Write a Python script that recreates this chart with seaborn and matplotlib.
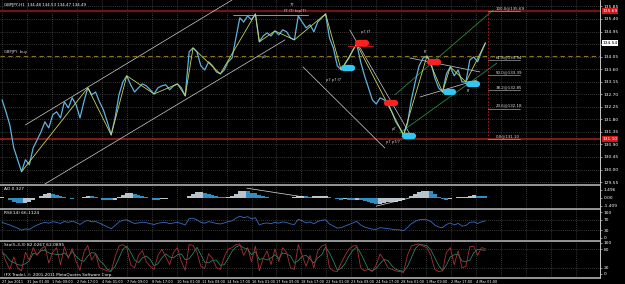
import numpy as np
import pandas as pd
import matplotlib
matplotlib.use("Agg")
import matplotlib.pyplot as plt
from matplotlib.lines import Line2D
from matplotlib.transforms import blended_transform_factory
import seaborn as sns

# ---------------- data (H1 bars, one value every 5 bars) ----------------
close = [132.50, 132.07, 131.60, 130.78, 130.35, 129.92, 130.35, 130.17, 130.78, 131.06,
         131.35, 131.71, 131.49, 131.96, 132.07, 131.85, 132.43, 132.21, 132.57, 132.32,
         131.85, 132.43, 132.93, 132.68, 132.78, 132.43, 132.14, 131.71, 131.24, 131.85,
         132.68, 133.14, 133.36, 133.04, 132.78, 132.93, 133.07, 133.00, 132.86, 132.71,
         132.93, 133.00, 133.04, 132.86, 133.00, 133.07, 132.93, 132.64, 134.22, 134.36,
         134.22, 133.72, 133.57, 133.86, 133.72, 133.50, 133.43, 133.57, 133.86, 134.00,
         134.72, 135.44, 135.29, 135.51, 135.37, 135.58, 134.58, 134.79, 134.90, 134.79,
         134.97, 134.83, 135.01, 134.94, 134.72, 134.65, 135.51, 135.29, 135.08, 135.19,
         134.94, 135.29, 135.44, 135.58, 134.72, 134.36, 133.72, 133.57, 133.79, 134.00,
         134.29, 134.50, 133.86, 133.36, 132.93, 132.50, 132.35, 132.57, 132.50, 132.35,
         132.07, 131.71, 131.49, 131.24, 131.64, 132.50, 133.14, 133.72, 134.00, 134.07,
         133.86, 133.29, 132.93, 132.78, 133.43, 133.68, 133.36, 133.57, 133.14, 133.14,
         133.93, 134.04, 133.86, 134.22, 134.54]

ao = [0.10, -0.10, -0.40, -0.70, -0.90, -1.00, -0.90, -0.70, -0.40, -0.10,
      0.30, 0.70, 0.90, 0.80, 0.60, 0.40, 0.10, -0.10, -0.20, -0.10,
      0.05, 0.20, 0.35, 0.30, 0.15, -0.10, -0.30, -0.40, -0.45, -0.30,
      0.10, 0.50, 0.85, 0.90, 0.75, 0.55, 0.35, 0.15, -0.05, -0.30,
      -0.35, -0.25, -0.15, -0.10, -0.05, 0.00, -0.05, -0.10, 0.40, 0.80,
      1.10, 1.10, 1.00, 0.80, 0.55, 0.35, 0.20, 0.15, 0.20, 0.40,
      0.80, 1.20, 1.35, 1.20, 1.00, 0.85, 0.60, 0.35, 0.15, 0.05,
      0.00, 0.05, 0.00, -0.05, 0.05, 0.15, 0.35, 0.40, 0.35, 0.25,
      0.30, 0.35, 0.40, 0.40, 0.20, 0.00, -0.20, -0.30, -0.25, -0.30,
      -0.35, -0.30, -0.40, -0.60, -0.80, -1.00, -1.15, -1.10, -0.95, -0.80,
      -0.75, -0.70, -0.60, -0.45, -0.10, 0.30, 0.70, 1.10, 1.30, 1.35,
      1.20, 0.70, 0.20, -0.20, -0.30, -0.20, 0.00, 0.15, 0.20, 0.20,
      0.35, 0.50, 0.45, 0.35, 0.33]

rsi = [60, 55, 50, 44, 38, 30, 35, 33, 42, 50,
       56, 60, 57, 63, 60, 56, 64, 60, 65, 60,
       52, 62, 68, 62, 64, 57, 50, 43, 36, 48,
       62, 68, 70, 62, 56, 58, 61, 59, 55, 52,
       57, 59, 60, 55, 58, 60, 56, 50, 75, 76,
       70, 60, 57, 63, 60, 56, 54, 58, 63, 66,
       76, 84, 78, 82, 74, 78, 50, 56, 58, 55,
       60, 57, 62, 60, 54, 52, 72, 66, 58, 62,
       55, 64, 68, 70, 54, 46, 38, 40, 46, 52,
       58, 64, 50, 42, 38, 34, 33, 40, 38, 36,
       34, 32, 31, 28, 40, 55, 64, 70, 72, 70,
       64, 50, 42, 40, 52, 58, 50, 56, 46, 48,
       60, 62, 56, 62, 66]

stoch_k = [75, 40, 15, 55, 20, 10, 70, 45, 85, 60,
           80, 90, 35, 70, 85, 30, 88, 50, 82, 40,
           12, 70, 92, 45, 65, 20, 15, 10, 8, 55,
           90, 95, 85, 30, 20, 60, 75, 40, 25, 15,
           60, 80, 55, 30, 70, 85, 40, 12, 95, 92,
           70, 25, 18, 65, 50, 20, 15, 55, 80, 85,
           95, 97, 60, 85, 40, 90, 10, 50, 75, 30,
           80, 40, 85, 70, 20, 15, 95, 60, 25, 60,
           20, 75, 90, 95, 20, 10, 8, 35, 60, 80,
           90, 92, 20, 10, 15, 8, 30, 65, 45, 20,
           15, 10, 8, 5, 60, 90, 95, 97, 90, 85,
           60, 15, 8, 10, 70, 85, 30, 75, 20, 25,
           88, 90, 60, 85, 82]

stoch_d = [70, 60, 43, 37, 30, 28, 33, 42, 67, 63,
           75, 77, 68, 65, 63, 62, 68, 56, 73, 57,
           45, 41, 58, 69, 67, 43, 33, 15, 11, 24,
           51, 80, 90, 70, 45, 37, 52, 58, 47, 27,
           33, 52, 65, 55, 52, 62, 65, 46, 49, 66,
           86, 62, 38, 36, 44, 45, 28, 30, 50, 73,
           87, 92, 84, 81, 62, 72, 47, 50, 45, 52,
           62, 50, 68, 65, 58, 35, 43, 57, 60, 48,
           35, 52, 62, 87, 68, 42, 13, 18, 34, 58,
           77, 87, 67, 41, 15, 11, 18, 34, 47, 43,
           27, 15, 11, 8, 24, 52, 82, 94, 94, 91,
           78, 53, 28, 11, 29, 55, 62, 63, 42, 40,
           44, 68, 79, 78, 76]

# swing points of the zigzag (indices into close)
zigzag_idx = [5, 22, 28, 32, 39, 45, 47, 49, 56, 65, 66, 70, 75, 83, 87, 91, 103, 109, 113, 115, 119, 124]

time_labels = ["27 Jan 2011", "31 Jan 01:00", "1 Feb 09:00", "2 Feb 17:00", "4 Feb 01:00",
               "7 Feb 09:00", "8 Feb 17:00", "10 Feb 01:00", "11 Feb 09:00", "14 Feb 17:00",
               "16 Feb 01:00", "17 Feb 09:00", "18 Feb 17:00", "22 Feb 01:00", "23 Feb 09:00",
               "24 Feb 17:00", "28 Feb 01:00", "1 Mar 09:00", "2 Mar 17:00", "4 Mar 01:00"]
price_ticks = [129.55, 130.00, 130.45, 130.90, 131.35, 131.80, 132.25, 132.70,
               133.15, 133.60, 134.05, 134.50, 134.95, 135.40, 135.85]

fib_low, fib_high = 131.10, 135.69
fib_levels = [0.0, 23.6, 38.2, 50.0, 61.8, 100.0]
pending_level = 134.07

# trend lines: (bar, price) pairs
white_lines = [((30, 131.60), (295, 136.08)),
               ((55, 129.48), (363, 134.65)),
               ((296, 135.55), (392, 135.55)),
               ((386, 133.68), (491, 130.77)),
               ((446, 135.01), (526, 131.13)),
               ((523, 134.00), (613, 133.50)),
               ((536, 132.60), (609, 133.21))]
green_lines = [((504, 132.68), (630, 135.72)),
               ((510, 131.31), (635, 133.82))]
ao_lines = [((314, 1.80), (386, 0.20)), ((480, -1.50), (523, 0.00))]
sell_marks = [(462, 134.54), (499, 132.39), (554, 133.86)]
buy_marks = [(444, 133.64), (522, 131.21), (574, 132.78), (604, 133.07)]
notes = [("77", 369, 135.90), ("f7 (7) top(7)", 362, 135.68), ("p7", 333, 134.04),
         ("p7 p7 f7", 416, 133.21), ("p7 f7", 461, 134.92), ("p7", 500, 131.45),
         ("p7 p7/7", 492, 131.00), ("f7", 541, 134.20), ("f7", 596, 132.83)]

BAR_STEP = 5
bars = np.arange(len(close)) * BAR_STEP
df = pd.DataFrame({"bar": bars, "close": close, "ao": ao, "rsi": rsi,
                   "k": stoch_k, "d": stoch_d})
zz = df.iloc[zigzag_idx]

# ---------------- style ----------------
sns.set_theme(style="dark")
plt.rcParams.update({"font.family": ["DejaVu Sans"], "axes.facecolor": "black",
                     "figure.facecolor": "black", "text.color": "white"})
FS = 3.2
XFS = 2.55
GRID = dict(color="#6a6a6a", linestyle=(0, (1, 2)), linewidth=0.5)
XMIN, XMAX = -2.6, 767
grid_bars = np.arange(0, 737, 32)

W = 600 / 625
fig = plt.figure(figsize=(6.25, 2.84), dpi=100)
ax = fig.add_axes([0, 1 - 184 / 284, W, 184 / 284])
ax_ao = fig.add_axes([0, 1 - 208 / 284, W, 22 / 284])
ax_rsi = fig.add_axes([0, 1 - 240 / 284, W, 30 / 284])
ax_st = fig.add_axes([0, 1 - 277 / 284, W, 35 / 284])

for a in (ax, ax_ao, ax_rsi, ax_st):
    a.set_facecolor("black")
    a.set_xlim(XMIN, XMAX)
    for s in a.spines.values():
        s.set_visible(False)
    a.set_xticks(grid_bars)
    a.xaxis.grid(True, **GRID)
    a.yaxis.tick_right()
    a.tick_params(axis="y", colors="white", labelsize=FS, length=1.5, width=0.4, pad=1)
    a.tick_params(axis="x", length=0, labelbottom=False)

# ---------------- main price panel ----------------
ax.set_ylim(129.48, 136.08)
ax.set_yticks(price_ticks)
# the current-price box takes the place of the 134.50 label, as in the terminal
ax.set_yticklabels(["" if abs(p - close[-1]) < 0.1 else f"{p:.2f}" for p in price_ticks])
ax.yaxis.grid(True, **GRID)

ax.axhline(fib_high, color="#701414", lw=1.6, zorder=1)
ax.axhline(fib_low, color="#b01c1c", lw=1.1, zorder=1)
ax.axhline(pending_level, color="#8a7324", lw=0.8, ls=(0, (4, 3)), zorder=1)

for (x0, y0), (x1, y1) in white_lines:
    ax.plot([x0, x1], [y0, y1], color="#d0d0d0", lw=0.5, zorder=2)
for (x0, y0), (x1, y1) in green_lines:
    ax.plot([x0, x1], [y0, y1], color="#2f8a3a", lw=0.6, zorder=2)

sns.lineplot(data=df, x="bar", y="close", ax=ax, color="#5fb2dc", lw=0.9, zorder=3)
sns.lineplot(data=zz, x="bar", y="close", ax=ax, color="#c9d35a", lw=0.6, zorder=4)

last_bar = df["bar"].iloc[-1]
ax.plot([last_bar + 3, last_bar + 3], [fib_low, fib_high], color="#c02020",
        lw=0.6, ls=(0, (2, 2)), zorder=2)
for lvl in fib_levels:
    price = fib_low + (fib_high - fib_low) * lvl / 100
    ax.plot([last_bar + 3, last_bar + 45], [price, price], color="#a0a0a0", lw=0.5, zorder=2)
    ax.text(last_bar + 13, price + 0.03, f"{lvl:.1f}@{price:.2f}", fontsize=FS - 0.3,
            color="#e0e0e0", ha="left", va="bottom", zorder=5)

ax.plot([sell_marks[0][0] - 18, sell_marks[0][0] + 14],
        [sell_marks[0][1] - 0.12] * 2, color="#c01818", lw=0.8, zorder=4)
for bx, py in sell_marks:
    ax.plot([bx - 5, bx + 5], [py, py], color="#ff2020", lw=4.5,
            solid_capstyle="round", zorder=6)
for bx, py in buy_marks:
    ax.plot([bx - 5, bx + 5], [py, py], color="#30c8f0", lw=4.5,
            solid_capstyle="round", zorder=6)

for txt, bx, py in notes:
    ax.text(bx, py, txt, fontsize=FS - 0.6, color="#d8d8d8", ha="left", va="center", zorder=5)

ax.text(3, 135.98, "GBPJPY,H1  134.48 134.53 134.47 134.49", fontsize=FS - 0.3,
        color="white", ha="left", va="top")
ax.text(3, pending_level + 0.06, "GBPJPY  buy", fontsize=FS - 0.5,
        color="#e0e0e0", ha="left", va="bottom")

tr = blended_transform_factory(ax.transAxes, ax.transData)
for val, fc, tc in [(fib_high, "#d01818", "white"), (fib_low, "#d01818", "white"),
                    (close[-1], "white", "black")]:
    ax.text(1.004, val, f"{val:.2f}", transform=tr, fontsize=FS, color=tc, ha="left",
            va="center", bbox=dict(boxstyle="square,pad=0.15", fc=fc, ec="none"), zorder=7)

# ---------------- AO panel ----------------
ao_colors = ["#2f8fc0" if (i > 0 and ao[i] < ao[i - 1]) else "#b8c4cc" for i in range(len(ao))]
ax_ao.bar(df["bar"], df["ao"], width=BAR_STEP, color=ao_colors, linewidth=0)
ax_ao.set_ylim(-1.85, 2.2)
ax_ao.set_yticks([1.496, 0.0, -1.409])
ax_ao.set_yticklabels(["1.496", "0.00", "-1.409"])
for (x0, y0), (x1, y1) in ao_lines:
    ax_ao.plot([x0, x1], [y0, y1], color="#e0e0e0", lw=0.5)
ax_ao.text(3, 2.0, "AO 0.327", fontsize=FS, color="white", ha="left", va="top")

# ---------------- RSI panel ----------------
sns.lineplot(data=df, x="bar", y="rsi", ax=ax_rsi, color="#3a6cc8", lw=0.6)
ax_rsi.set_ylim(-7.7, 107.7)
ax_rsi.set_yticks([100, 70, 30, 0])
ax_rsi.set_yticklabels(["100", "70", "30", "0"])
for lv in (70, 30):
    ax_rsi.axhline(lv, **GRID)
ax_rsi.text(3, 104, "RSI(14) 66.1124", fontsize=FS, color="white", ha="left", va="top")

# ---------------- Stochastic panel ----------------
sns.lineplot(data=df, x="bar", y="d", ax=ax_st, color="#2e9a78", lw=0.5)
sns.lineplot(data=df, x="bar", y="k", ax=ax_st, color="#a83232", lw=0.6)
ax_st.set_ylim(-9.7, 103.2)
ax_st.set_yticks([100, 80, 20, 0])
ax_st.set_yticklabels(["100", "80", "20", "0"])
for lv in (80, 20):
    ax_st.axhline(lv, **GRID)
ax_st.text(3, 101, "Sto(5,3,3) 82.0267 62.0895", fontsize=FS, color="white", ha="left", va="top")
ax_st.text(3, -8.5, "(FX Trade), \u00a9 2001-2011 MetaQuotes Software Corp.", fontsize=FS - 0.2,
           color="white", ha="left", va="bottom")

ax_st.tick_params(axis="x", labelbottom=True, colors="white", labelsize=XFS, length=1.2,
                  width=0.4, pad=0.8)
ax_st.set_xticklabels(time_labels + [""] * (len(grid_bars) - len(time_labels)), ha="left")
for a in (ax, ax_ao, ax_rsi, ax_st):
    a.set_xlabel("")
    a.set_ylabel("")

# ---------------- panel frames ----------------
for ypx in (184.5, 209.0, 241.0, 277.5):
    fig.add_artist(Line2D([0, W], [1 - ypx / 284] * 2, transform=fig.transFigure,
                          color="#b0b0b0", lw=1.2))
fig.add_artist(Line2D([W, W], [1 - 277.5 / 284, 1], transform=fig.transFigure,
                      color="#c8c8c8", lw=0.7))

fig.savefig("out.png", dpi=100, facecolor="black")
